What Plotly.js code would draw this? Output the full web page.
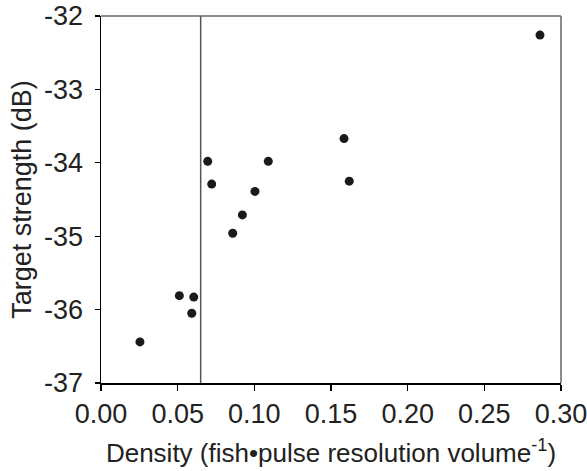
<!DOCTYPE html>
<html>
<head>
<meta charset="utf-8">
<script src="https://cdn.plot.ly/plotly-3.0.1.min.js"></script>
<style>html,body{margin:0;padding:0;background:#fff;}#chart{width:587px;height:471px;}</style>
</head>
<body>
<div id="chart"></div>
<script>
const density = [0.0254, 0.0511, 0.0605, 0.0592, 0.0696, 0.0722, 0.0859, 0.0922, 0.1004, 0.1091, 0.1585, 0.1619, 0.2863];
const targetStrength = [-36.44, -35.81, -35.83, -36.05, -33.98, -34.29, -34.96, -34.71, -34.39, -33.98, -33.67, -34.25, -32.26];
const thresholdDensity = 0.065;
const xTicks = [0, 0.05, 0.10, 0.15, 0.20, 0.25, 0.30];
const xTickLabels = ["0.00", "0.05", "0.10", "0.15", "0.20", "0.25", "0.30"];
const yTicks = [-37, -36, -35, -34, -33, -32];
const yTickLabels = ["-37", "-36", "-35", "-34", "-33", "-32"];

const font = {family: "Liberation Sans, Arial, sans-serif", size: 27, color: "#222"};
const titleFont = {family: "Liberation Sans, Arial, sans-serif", size: 26, color: "#222"};

Plotly.newPlot("chart", [{
  x: density, y: targetStrength, type: "scatter", mode: "markers",
  marker: {size: 9, color: "#1a1a1a"}, showlegend: false, hoverinfo: "skip"
}], {
  width: 587, height: 471,
  margin: {l: 101, r: 26, t: 16, b: 88},
  paper_bgcolor: "#fff", plot_bgcolor: "#fff",
  font: font,
  xaxis: {
    range: [0, 0.30], tickvals: xTicks, ticktext: xTickLabels,
    ticks: "outside", ticklen: 6, tickwidth: 1.2, tickcolor: "#000",
    showline: true, linecolor: "#000", linewidth: 1.5, showgrid: false, zeroline: false,
    tickfont: font, automargin: false, ticklabeloverflow: "allow",
    title: {text: "Density (fish•pulse resolution volume<sup>-1</sup>)", font: titleFont, standoff: 16}
  },
  yaxis: {
    range: [-37, -32], tickvals: yTicks, ticktext: yTickLabels,
    ticks: "outside", ticklen: 5, tickwidth: 1.2, tickcolor: "#000",
    showline: true, linecolor: "#000", linewidth: 1.5, showgrid: false, zeroline: false,
    tickfont: font, automargin: false, ticklabelstandoff: 6, ticklabeloverflow: "allow",
    title: {text: "Target strength (dB)", font: font, standoff: 4}
  },
  shapes: [
    {type: "line", xref: "x", yref: "paper", x0: thresholdDensity, x1: thresholdDensity, y0: 0, y1: 1, line: {color: "#555", width: 1.5}},
    {type: "line", xref: "paper", yref: "paper", x0: 0, x1: 1, y0: 1, y1: 1, line: {color: "#666", width: 1.5}},
    {type: "line", xref: "paper", yref: "paper", x0: 1, x1: 1, y0: 0, y1: 1, line: {color: "#666", width: 1.5}}
  ]
}, {displayModeBar: false, staticPlot: true});
</script>
</body>
</html>
